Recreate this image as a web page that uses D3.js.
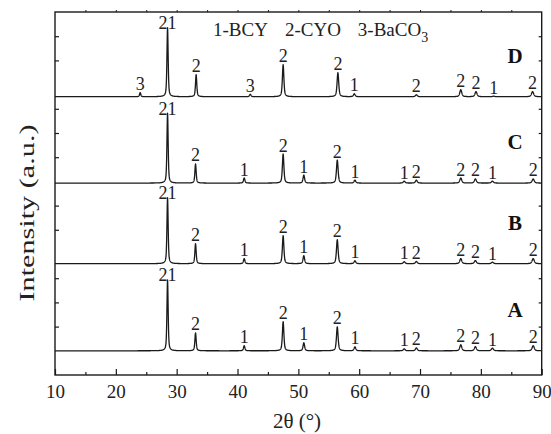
<!DOCTYPE html>
<html>
<head>
<meta charset="utf-8">
<script src="https://cdn.jsdelivr.net/npm/d3@7"></script>
<style>
  html, body { margin: 0; padding: 0; background: #fff; }
  svg { display: block; }
  text { font-family: "Liberation Serif", "DejaVu Serif", serif; }
</style>
</head>
<body>
<svg id="chart" width="551" height="434"></svg>
<script>
// ---------------- data ----------------
const xTickValues = [10, 20, 30, 40, 50, 60, 70, 80, 90];
const xMinorTickValues = [15, 25, 35, 45, 55, 65, 75, 85];
const yMinorTickValues = [2, 3, 4, 6, 7, 9, 10, 11, 13, 14];

const sampleNames = ["A", "B", "C", "D"];
const sampleOffsets = [1.0, 4.6, 7.93, 11.5];

const peakPosABC = [28.5, 33.1, 41.1, 47.5, 50.9, 56.4, 59.3, 67.4, 69.4, 76.7, 79.1, 81.9, 88.6];
const peakLabelsABC = ["21", "2", "1", "2", "1", "2", "1", "1", "2", "2", "2", "1", "2"];
const heightsA = [2.93, 0.74, 0.21, 1.20, 0.33, 0.99, 0.16, 0.08, 0.12, 0.25, 0.17, 0.11, 0.21];
const heightsB = [2.73, 0.83, 0.21, 1.16, 0.33, 0.99, 0.12, 0.08, 0.09, 0.21, 0.13, 0.06, 0.21];
const heightsC = [2.89, 0.79, 0.21, 1.20, 0.33, 0.95, 0.12, 0.08, 0.12, 0.21, 0.17, 0.08, 0.17];

const peakPosD = [24.0, 28.5, 33.2, 42.1, 47.5, 56.5, 59.2, 69.4, 76.7, 79.2, 82.1, 88.5];
const peakLabelsD = ["3", "21", "2", "3", "2", "2", "1", "2", "2", "2", "1", "2"];
const heightsD = [0.17, 2.85, 0.91, 0.10, 1.32, 0.99, 0.12, 0.08, 0.29, 0.21, 0.02, 0.21];

const legendItems = [["1-BCY", ""], ["2-CYO", ""], ["3-BaCO", "3"]];
const xAxisTitle = "2θ (°)";
const yAxisTitle = "Intensity (a.u.)";

// ---------------- layout ----------------
const svg = d3.select("#chart");
const mLeft = 55, mRight = 541.7, mTop = 12, mBottom = 375;
const x = d3.scaleLinear().domain([10, 90]).range([mLeft, mRight]);
const y = d3.scaleLinear().domain([0, 15]).range([mBottom, mTop]);
const ink = "#1a1a1a";

const samples = [
  { name: sampleNames[0], offset: sampleOffsets[0], pos: peakPosABC, h: heightsA, lab: peakLabelsABC },
  { name: sampleNames[1], offset: sampleOffsets[1], pos: peakPosABC, h: heightsB, lab: peakLabelsABC },
  { name: sampleNames[2], offset: sampleOffsets[2], pos: peakPosABC, h: heightsC, lab: peakLabelsABC },
  { name: sampleNames[3], offset: sampleOffsets[3], pos: peakPosD, h: heightsD, lab: peakLabelsD }
];

// peak profile (pseudo-Voigt) rendered from the read peak list
function hwhm(t) { return 0.09 + 0.0015 * (t - 10); }
function profile(t, pos, h) {
  let s = 0;
  for (let i = 0; i < pos.length; i++) {
    const w = hwhm(pos[i]);
    const d = (t - pos[i]) / w;
    const L = 1 / (1 + d * d);
    const G = Math.exp(-Math.LN2 * d * d);
    s += h[i] * (0.55 * L + 0.45 * G);
  }
  return s;
}

const line = d3.line().x(d => x(d[0])).y(d => y(d[1]));

samples.forEach(sm => {
  const grid = d3.range(10, 90.0001, 0.02).concat(sm.pos).sort((a, b) => a - b);
  const pts = grid.map(t => [t, sm.offset + profile(t, sm.pos, sm.h)]);
  svg.append("path")
    .datum(pts)
    .attr("d", line)
    .attr("fill", "none")
    .attr("stroke", ink)
    .attr("stroke-width", 1.3)
    .attr("stroke-linejoin", "round");

  // peak labels
  svg.append("g").selectAll("text")
    .data(sm.pos.map((p, i) => ({ p, h: sm.h[i], lab: sm.lab[i] })))
    .join("text")
    .attr("x", d => x(d.p))
    .attr("y", d => y(sm.offset + d.h) + (d.lab === "21" ? 1.5 : -2.5))
    .attr("text-anchor", "middle")
    .attr("font-size", 18)
    .attr("fill", "#222")
    .text(d => d.lab);

  // sample letter
  svg.append("text")
    .attr("x", 515)
    .attr("y", y(sm.offset) - 34)
    .attr("text-anchor", "middle")
    .attr("font-size", 21)
    .attr("font-weight", "bold")
    .attr("fill", "#111")
    .text(sm.name);
});

// ---------------- axes ----------------
svg.append("rect")
  .attr("x", mLeft).attr("y", mTop)
  .attr("width", mRight - mLeft).attr("height", mBottom - mTop)
  .attr("fill", "none").attr("stroke", ink).attr("stroke-width", 1.4);

// bottom axis (ticks inward)
const gx = svg.append("g").attr("transform", `translate(0,${mBottom})`);
gx.call(d3.axisBottom(x).tickValues(xTickValues).tickSize(-6).tickPadding(10).tickFormat(d3.format("d")));
gx.append("g").call(d3.axisBottom(x).tickValues(xMinorTickValues).tickSize(-3).tickFormat(""));
gx.selectAll(".domain").remove();
gx.selectAll("line").attr("stroke", ink).attr("stroke-width", 1.2);
gx.selectAll("text").attr("font-size", 19).attr("fill", "#222")
  .style("font-family", '"Liberation Serif", serif');

// top axis (small ticks)
const gt = svg.append("g").attr("transform", `translate(0,${mTop})`);
gt.call(d3.axisTop(x).tickValues(xMinorTickValues.concat(xTickValues.slice(1, -1))).tickSize(2).tickFormat(""));
gt.selectAll(".domain").remove();
gt.selectAll("line").attr("stroke", ink).attr("stroke-width", 1);

// left axis (ticks inward)
const gl = svg.append("g").attr("transform", `translate(${mLeft},0)`);
gl.call(d3.axisLeft(y).tickValues(yMinorTickValues).tickSize(-4).tickFormat(""));
gl.selectAll(".domain").remove();
gl.selectAll("line").attr("stroke", ink).attr("stroke-width", 1.2);

// right axis (ticks inward)
const gr = svg.append("g").attr("transform", `translate(${mRight},0)`);
gr.call(d3.axisRight(y).tickValues(yMinorTickValues).tickSize(-3).tickFormat(""));
gr.selectAll(".domain").remove();
gr.selectAll("line").attr("stroke", ink).attr("stroke-width", 1.2);

// axis titles
svg.append("text")
  .attr("x", 297).attr("y", 428)
  .attr("text-anchor", "middle")
  .attr("font-size", 21)
  .attr("fill", "#222")
  .text(xAxisTitle);

svg.append("text")
  .attr("transform", "translate(34,213) rotate(-90)")
  .attr("text-anchor", "middle")
  .attr("font-size", 21)
  .attr("fill", "#222")
  .attr("textLength", 177)
  .attr("lengthAdjust", "spacingAndGlyphs")
  .text(yAxisTitle);

// legend
let lx = 213;
legendItems.forEach(([main, sub]) => {
  const t = svg.append("text")
    .attr("x", lx).attr("y", 36)
    .attr("font-size", 19)
    .attr("fill", "#222");
  t.append("tspan").text(main);
  if (sub) t.append("tspan").attr("dy", 6).attr("font-size", 14).text(sub);
  lx += t.node().getComputedTextLength() + 17;
});
</script>
</body>
</html>
